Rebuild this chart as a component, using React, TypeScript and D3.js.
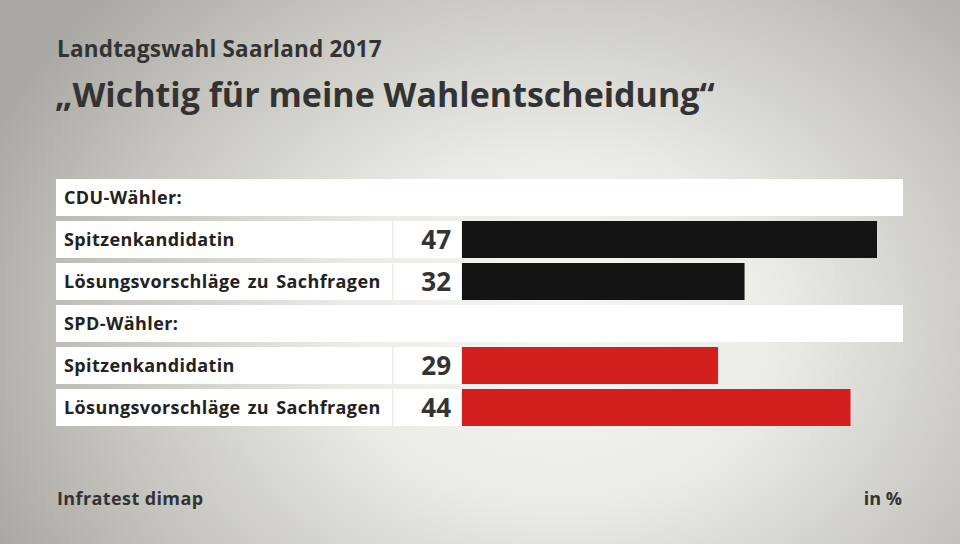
import React from "react";
import * as d3 from "d3";

const groups = ["CDU-Wähler:", "SPD-Wähler:"];
const categories = ["Spitzenkandidatin", "Lösungsvorschläge zu Sachfragen"];
const cduValues = [47, 32];
const spdValues = [29, 44];
const groupColors = ["#141414", "#d41f1f"];
const title = "Landtagswahl Saarland 2017";
const subtitle = "„Wichtig für meine Wahlentscheidung“";
const source = "Infratest dimap";
const unit = "in %";

const W = 960, H = 544;
const FONT = "'Open Sans', 'Noto Sans', sans-serif";

export default function App() {
  const seriesByGroup = [cduValues, spdValues];
  type Row = { kind: "header" | "bar"; label: string; value?: number; color?: string };
  const rows: Row[] = [];
  groups.forEach((g, gi) => {
    rows.push({ kind: "header", label: g });
    categories.forEach((c, ci) => rows.push({ kind: "bar", label: c, value: seriesByGroup[gi][ci], color: groupColors[gi] }));
  });

  const y = d3.scaleBand<number>().domain(d3.range(rows.length)).range([179, 426]).paddingInner(5 / 42).paddingOuter(0);
  const x = d3.scaleLinear().domain([0, 47]).range([462, 877]);
  const bh = y.bandwidth();
  const labelStyle = { letterSpacing: "0.4px", wordSpacing: "2px" } as React.CSSProperties;

  return (
    <svg width={W} height={H} style={{ position: "absolute", left: 0, top: 0 }} fontFamily={FONT}>
      <defs>
        <radialGradient id="bg" cx="560" cy="330" r="620" gradientUnits="userSpaceOnUse" gradientTransform="translate(560 330) scale(1 0.8) translate(-560 -330)">
          <stop offset="0" stopColor="#f6f6f3" />
          <stop offset="0.35" stopColor="#ebebe7" />
          <stop offset="0.75" stopColor="#c4c3bd" />
          <stop offset="1" stopColor="#a9a8a2" />
        </radialGradient>
      </defs>
      <rect width={W} height={H} fill="url(#bg)" />
      <text x={57} y={57} fontSize={22.5} fontWeight={700} fill="#333" style={{ letterSpacing: "0.2px" }}>{title}</text>
      <text x={55} y={107} fontSize={34} fontWeight={700} fill="#333">{subtitle}</text>
      {rows.map((r, i) => {
        const top = y(i)!;
        if (r.kind === "header") {
          return (
            <g key={i}>
              <rect x={56} y={top} width={903 - 56} height={bh} fill="#fff" />
              <text x={64} y={top + bh / 2 + 6.5} fontSize={18} fontWeight={700} fill="#222" style={labelStyle}>{r.label}</text>
            </g>
          );
        }
        return (
          <g key={i}>
            <rect x={56} y={top} width={392 - 56} height={bh} fill="#fff" />
            <rect x={393.5} y={top} width={461 - 393.5} height={bh} fill="#fff" />
            <rect x={x(0)} y={top} width={x(r.value!) - x(0)} height={bh} fill={r.color} />
            <text x={64} y={top + bh / 2 + 6.5} fontSize={18} fontWeight={700} fill="#222" style={labelStyle}>{r.label}</text>
            <text x={451} y={top + bh / 2 + 9.5} fontSize={26} fontWeight={700} fill="#333" textAnchor="end">{r.value}</text>
          </g>
        );
      })}
      <text x={57} y={505} fontSize={18} fontWeight={700} fill="#333" style={{ letterSpacing: "0.4px" }}>{source}</text>
      <text x={902} y={505} fontSize={18} fontWeight={700} fill="#333" textAnchor="end">{unit}</text>
    </svg>
  );
}
